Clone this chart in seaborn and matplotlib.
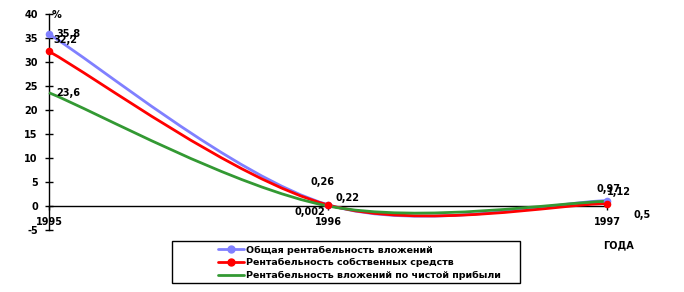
import numpy as np
import pandas as pd
import matplotlib
matplotlib.use('Agg')
import matplotlib.pyplot as plt
import seaborn as sns
from matplotlib.path import Path
from matplotlib.patches import PathPatch, Rectangle
from matplotlib.lines import Line2D

# ---- data ----
years = ['1995', '1996', '1997']
total_return = [35.8, 0.26, 1.12]
own_funds_return = [32.2, 0.22, 0.5]
net_profit_return = [23.6, 0.002, 0.97]
series_names = ['Общая рентабельность вложений',
                'Рентабельность собственных средств',
                'Рентабельность вложений по чистой прибыли']
label_texts = {
    'total': ['35,8', '0,26', '0,97'],
    'own': ['32,2', '0,22', '1,12'],
    'net': ['23,6', '0,002', '0,5'],
}
yticks = list(range(-5, 45, 5))

BLUE = '#8080FF'
RED = '#FF0000'
GREEN = '#339933'

sns.set_theme(style='white')
plt.rcParams['font.family'] = ['DejaVu Sans']
plt.rcParams['font.weight'] = 'bold'
plt.rcParams['axes.unicode_minus'] = False
plt.rcParams['text.color'] = 'black'
plt.rcParams['xtick.color'] = 'black'
plt.rcParams['ytick.color'] = 'black'
plt.rcParams['xtick.labelcolor'] = 'black'
plt.rcParams['ytick.labelcolor'] = 'black'

fig = plt.figure(figsize=(6.84, 2.92), dpi=100)
ax = fig.add_axes([49 / 684, 1 - 230 / 292, 558 / 684, 216 / 292])
xpos = list(range(len(years)))


def smooth_path(xs, ys):
    pts = list(zip(xs, ys))
    n = len(pts)
    verts = [pts[0]]
    codes = [Path.MOVETO]
    for i in range(n - 1):
        p0 = pts[max(i - 1, 0)]
        p1 = pts[i]
        p2 = pts[i + 1]
        p3 = pts[min(i + 2, n - 1)]
        c1 = (p1[0] + (p2[0] - p0[0]) / 6, p1[1] + (p2[1] - p0[1]) / 6)
        c2 = (p2[0] - (p3[0] - p1[0]) / 6, p2[1] - (p3[1] - p1[1]) / 6)
        verts += [c1, c2, p2]
        codes += [Path.CURVE4] * 3
    return Path(verts, codes)


for vals, col in [(total_return, BLUE), (own_funds_return, RED), (net_profit_return, GREEN)]:
    patch = PathPatch(smooth_path(xpos, vals), facecolor='none', edgecolor=col,
                      lw=2, clip_on=False, zorder=3)
    ax.add_patch(patch)

df_total = pd.DataFrame({'x': xpos, 'y': total_return})
df_own = pd.DataFrame({'x': xpos, 'y': own_funds_return})
sns.scatterplot(data=df_total, x='x', y='y', color=BLUE, s=30, edgecolor=BLUE,
                linewidth=0, ax=ax, zorder=5, clip_on=False, legend=False)
sns.scatterplot(data=df_own, x='x', y='y', color=RED, s=30, edgecolor=RED,
                linewidth=0, ax=ax, zorder=6, clip_on=False, legend=False)

ax.set_xlim(0, 2)
ax.set_ylim(-5, 40)
ax.set_xlabel('')
ax.set_ylabel('')
ax.set_yticks(yticks)
ax.set_xticks(xpos, labels=years)
for s in ['top', 'right']:
    ax.spines[s].set_visible(False)
ax.spines['bottom'].set_position(('data', 0))
for s in ['left', 'bottom']:
    ax.spines[s].set_color('black')
    ax.spines[s].set_linewidth(1)
ax.tick_params(axis='y', direction='inout', length=6, width=1, color='black',
               labelcolor='black', labelsize=7, pad=5, left=True)
ax.tick_params(axis='x', direction='out', length=3, width=1, color='black',
               labelcolor='black', labelsize=7, pad=5, bottom=True)
for t in ax.get_xticklabels() + ax.get_yticklabels():
    t.set_fontweight('bold')
ax.set_facecolor('white')

# data labels (offsets in pixels)
offsets = {
    'total': [(19, 0.5), (-5.5, 23), (1.5, 12)],
    'own': [(16, 11.5), (19.5, 7), (11.5, 12)],
    'net': [(19.5, 0), (-18.5, -6), (35.5, -14)],
}
series_vals = {'total': total_return, 'own': own_funds_return, 'net': net_profit_return}
for key, vals in series_vals.items():
    for i, v in enumerate(vals):
        dx, dy = offsets[key][i]
        ax.annotate(label_texts[key][i], (xpos[i], v), xytext=(dx, dy),
                    textcoords='offset pixels', ha='center', va='center',
                    fontsize=7, fontweight='bold', color='black', zorder=7,
                    annotation_clip=False)

fig.text(57 / 684, 1 - 15 / 292, '%', fontsize=7, fontweight='bold', ha='center',
         va='center', color='black')
fig.text(618 / 684, 1 - 245 / 292, 'ГОДА', fontsize=7, fontweight='bold', ha='center',
         va='center', color='black')

# legend
fig.patches.append(Rectangle((172 / 684, 1 - 283 / 292), (520 - 172) / 684, (283 - 241) / 292,
                             transform=fig.transFigure, facecolor='white',
                             edgecolor='black', lw=1))
handles = [
    Line2D([], [], color=BLUE, lw=2, marker='o', markersize=5),
    Line2D([], [], color=RED, lw=2, marker='o', markersize=5),
    Line2D([], [], color=GREEN, lw=2),
]
leg = fig.legend(handles, series_names, loc='upper left',
                 bbox_to_anchor=(218 / 684, 1 - 245.5 / 292), frameon=False,
                 prop={'size': 6.8, 'weight': 'bold'}, handlelength=2.7,
                 handletextpad=0.3, labelspacing=0.38, borderpad=0, borderaxespad=0)
for t in leg.get_texts():
    t.set_color('black')

fig.savefig('out.png', dpi=100, facecolor='white')
